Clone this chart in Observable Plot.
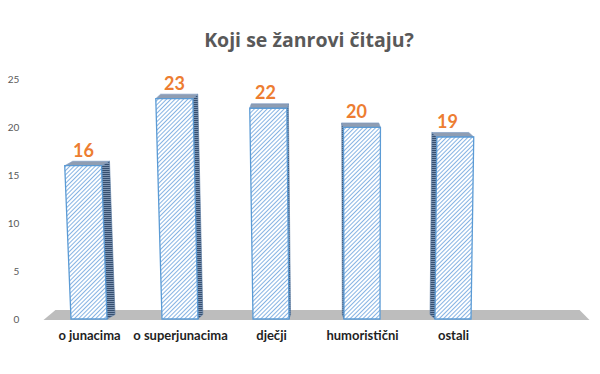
<!DOCTYPE html>
<html><head><meta charset="utf-8">
<script src="https://cdn.jsdelivr.net/npm/d3@7"></script>
<script src="https://cdn.jsdelivr.net/npm/@observablehq/plot@0.6"></script>
<style>
body{margin:0;background:#fff;}
#wrap{width:600px;height:374px;position:relative;overflow:hidden;font-family:Lato,"Open Sans",sans-serif;background:#fff;}
#title{height:60px;position:relative;}
#title span{position:absolute;left:309px;top:30px;transform:translateX(-50%);white-space:nowrap;font-family:"Open Sans",Lato,sans-serif;font-size:19.5px;line-height:19.5px;font-weight:bold;color:#595959;}
#chart svg{display:block;}
</style>
</head><body>
<div id="wrap"><div id="title"><span></span></div><div id="chart"></div></div>
<script>
const title = "Koji se žanrovi čitaju?";
const categories = ["o junacima", "o superjunacima", "dječji", "humoristični", "ostali"];
const values = [16, 23, 22, 20, 19];
const yTicks = [0, 5, 10, 15, 20, 25];

document.querySelector("#title span").textContent = title;
const data = categories.map((c, i) => ({cat: c, value: values[i]}));

const plot = Plot.plot({
  width: 600, height: 314,
  marginLeft: 13, marginRight: 71, marginTop: 19.5, marginBottom: 55,
  style: {fontFamily: "Lato, 'Open Sans', sans-serif", background: "transparent", overflow: "visible"},
  x: {domain: categories, padding: 0.6087, axis: null},
  y: {domain: [0, 25], axis: null},
  marks: [
    Plot.barY(data, {x: "cat", y: "value", fill: "url(#hatchFront)", stroke: "#5B9BD5", strokeWidth: 1.3}),
    Plot.text(data, {x: "cat", y: "value", text: d => String(d.value), dy: -15.3, fill: "#ED7D31", fontSize: 18, fontWeight: "bold"}),
    Plot.text(categories, {x: d => d, text: d => d, frameAnchor: "bottom", lineAnchor: "top", dy: 11, fontSize: 13, fontWeight: "bold", fill: "#1f1f1f"}),
    Plot.text(yTicks, {y: d => d, text: d => String(d), frameAnchor: "left", textAnchor: "end", dx: 19, fontSize: 10, fill: "#595959"})
  ]
});
document.getElementById("chart").appendChild(plot);

// ---- 3D look derived from the bars Plot drew ----
const svg = d3.select(plot);
const defs = svg.insert("defs", ":first-child");
const pf = defs.append("pattern").attr("id", "hatchFront").attr("patternUnits", "userSpaceOnUse")
  .attr("width", 3).attr("height", 3).attr("patternTransform", "rotate(45)");
pf.append("rect").attr("width", 3).attr("height", 3).attr("fill", "#fff");
pf.append("line").attr("x1", 1.5).attr("x2", 1.5).attr("y1", 0).attr("y2", 3).attr("stroke", "#86B3E3").attr("stroke-width", 1);
const ps = defs.append("pattern").attr("id", "hatchSide").attr("patternUnits", "userSpaceOnUse")
  .attr("width", 4).attr("height", 2);
ps.append("rect").attr("width", 4).attr("height", 2).attr("fill", "#7F95B2");
ps.append("line").attr("x1", 0).attr("x2", 4).attr("y1", 0.5).attr("y2", 0.5).attr("stroke", "#2E4768").attr("stroke-width", 0.9);

const barG = svg.select('g[aria-label="bar"]');
const rects = barG.selectAll("rect").nodes();
const R = rects.map(r => {
  const x = +r.getAttribute("x"), y = +r.getAttribute("y"), w = +r.getAttribute("width"), h = +r.getAttribute("height");
  return {x0: x, x1: x + w, yt: y, yb: y + h};
});
const Y0 = R[0].yb;
const VX = 363.5, C = 1.4e-4;
const warp = (x, y, f = 1) => [x - (VX - x) * C * (Y0 - y) * f, y];
const VD = 313, KD = 0.0348, UP = 4.5;
const pts = a => a.map(p => p.join(",")).join(" ");

// floor
const step = (R[1].x0 - R[0].x0);
const c0 = (R[0].x0 + R[0].x1) / 2, cN = (R[R.length - 1].x0 + R[R.length - 1].x1) / 2;
const fl = c0 - step / 2, fr = cN + step * 1.5;
const VF = 342, KF = 0.04, FD = 10;
const floorG = svg.insert("g", 'g[aria-label="bar"]').attr("transform", barG.attr("transform"));
floorG.append("polygon").attr("points", pts([[fl, Y0 + 1], [fr, Y0 + 1], [fr + KF * (VF - fr), Y0 + 1 - FD], [fl + KF * (VF - fl), Y0 + 1 - FD]]))
  .attr("fill", "#BDBDBD");

const g3 = svg.insert("g", 'g[aria-label="bar"]').attr("transform", barG.attr("transform"));
R.forEach(b => {
  const TL = warp(b.x0, b.yt), TR = warp(b.x1, b.yt), BR = warp(b.x1, b.yb), BL = warp(b.x0, b.yb);
  const s = KD * (VD - (TL[0] + TR[0]) / 2);
  const off = p => [p[0] + s, p[1] - UP];
  if (s > 0) {
    g3.append("polygon").attr("points", pts([TR, off(TR), off(BR), BR])).attr("fill", "url(#hatchSide)").attr("stroke", "#5577A0").attr("stroke-width", 0.6);
  } else {
    g3.append("polygon").attr("points", pts([TL, off(TL), off(BL), BL])).attr("fill", "url(#hatchSide)").attr("stroke", "#5577A0").attr("stroke-width", 0.6);
  }
  g3.append("polygon").attr("points", pts([TL, TR, off(TR), off(TL)])).attr("fill", "#8F9DB2").attr("stroke", "#7597C2").attr("stroke-width", 0.6);
  g3.append("polygon").attr("points", pts([TL, TR, BR, BL])).attr("fill", "url(#hatchFront)").attr("stroke", "#5B9BD5").attr("stroke-width", 1.3);
});
rects.forEach(r => r.remove());

// perspective shift for text
const textGs = svg.selectAll('g[aria-label="text"]').nodes();
function shiftTexts(g, f) {
  d3.select(g).selectAll("text").each(function() {
    const bb = this.getBBox();
    const cx = bb.x + bb.width / 2, cy = bb.y + bb.height / 2;
    const dx = warp(cx, cy, f)[0] - cx;
    const old = this.getAttribute("transform") || "";
    this.setAttribute("transform", `translate(${dx},0) ${old}`);
  });
}
shiftTexts(textGs[0], 0.45);
d3.select(textGs[2]).selectAll("text").each(function() {
  const bb = this.getBBox();
  const rx = bb.x + bb.width, cy = bb.y + bb.height / 2;
  const dx = warp(rx, cy)[0] - rx;
  const old = this.getAttribute("transform") || "";
  this.setAttribute("transform", `translate(${dx},0) ${old}`);
});
</script>
</body></html>
